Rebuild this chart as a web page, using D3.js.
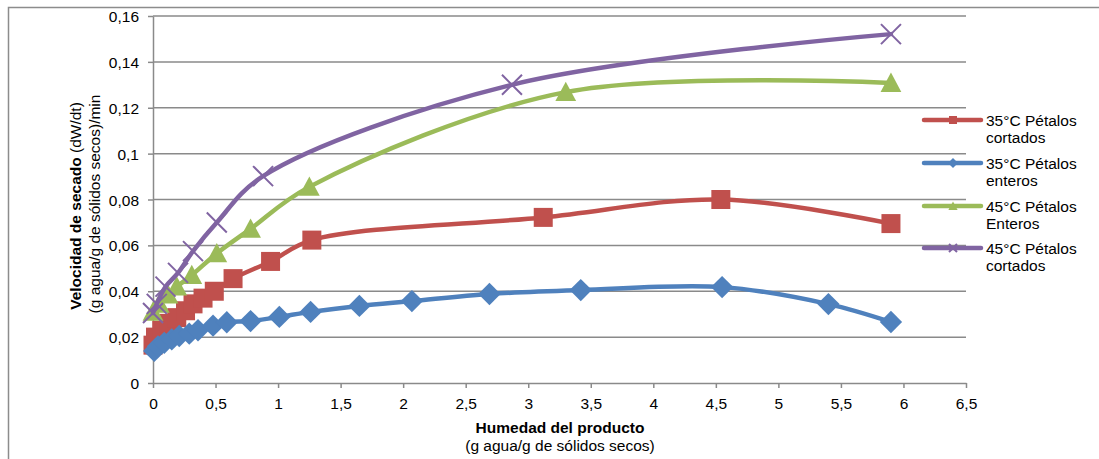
<!DOCTYPE html>
<html><head><meta charset="utf-8">
<script src="https://cdn.jsdelivr.net/npm/d3@7"></script>
<style>body{margin:0;background:#fff}svg{display:block;font-family:"Liberation Sans",Arial,sans-serif}</style>
</head><body><svg id="c" width="1099" height="459"></svg>
<script>
const xTicks = [0,0.5,1,1.5,2,2.5,3,3.5,4,4.5,5,5.5,6,6.5];
const yTicks = [0,0.02,0.04,0.06,0.08,0.1,0.12,0.14,0.16];
const seriesNames = ["35°C Pétalos|cortados","35°C Pétalos|enteros","45°C Pétalos|Enteros","45°C Pétalos|cortados"];
const redX = [0.00,0.02,0.07,0.13,0.19,0.26,0.32,0.40,0.49,0.64,0.94,1.27,3.12,4.54,5.90];
const redY = [0.0165,0.0200,0.0230,0.0260,0.0285,0.0315,0.0345,0.0370,0.0400,0.0455,0.0530,0.0623,0.0722,0.0800,0.0695];
const blueX = [0.01,0.04,0.09,0.15,0.21,0.29,0.36,0.48,0.59,0.78,1.01,1.26,1.65,2.07,2.69,3.42,4.55,5.40,5.90];
const blueY = [0.0140,0.0160,0.0175,0.0190,0.0205,0.0215,0.0230,0.0250,0.0265,0.0270,0.0288,0.0310,0.0336,0.0357,0.0388,0.0405,0.0418,0.0344,0.0266];
const greenX = [0.00,0.05,0.12,0.19,0.31,0.51,0.78,1.25,3.30,5.90];
const greenY = [0.0310,0.0345,0.0385,0.0420,0.0470,0.0565,0.0672,0.0855,0.1268,0.1308];
const purpleX = [0.00,0.03,0.10,0.20,0.32,0.51,0.88,2.87,5.90];
const purpleY = [0.0305,0.0345,0.0420,0.0480,0.0575,0.0700,0.0902,0.1300,0.1521];

const colors = ["#C0504D","#4F81BD","#9BBB59","#8064A2"];
const markers = ["square","diamond","triangle","x"];
const data = [[redX,redY],[blueX,blueY],[greenX,greenY],[purpleX,purpleY]]
  .map(([xs,ys]) => xs.map((x,i)=>({x, y: ys[i]})));

const svg = d3.select("#c");
const L=153, R=966, T=16, B=383;
const x = d3.scaleLinear().domain([0,6.5]).range([L,R]);
const y = d3.scaleLinear().domain([0,0.16]).range([B,T]);
const fmt = d => String(d).replace(".", ",");

// outer border
svg.append("path").attr("d","M8.5,459 V7.5 H1099").attr("fill","none").attr("stroke","#8c8c8c").attr("stroke-width",1.5);

// gridlines
svg.append("g").selectAll("line").data(yTicks.slice(1)).join("line")
  .attr("x1",L).attr("x2",R).attr("y1",d=>y(d)).attr("y2",d=>y(d))
  .attr("stroke","#8a8a8a").attr("stroke-width",1.5);

// axes
const gx = svg.append("g").attr("transform",`translate(0,${B})`)
  .call(d3.axisBottom(x).tickValues(xTicks).tickFormat(fmt).tickSize(5).tickSizeOuter(0));
const gy = svg.append("g").attr("transform",`translate(${L},0)`)
  .call(d3.axisLeft(y).tickValues(yTicks).tickFormat(fmt).tickSize(5).tickSizeOuter(0));
[gx,gy].forEach(g=>{
  g.select(".domain").attr("stroke","#8a8a8a").attr("stroke-width",1.5);
  g.selectAll(".tick line").attr("stroke","#8a8a8a").attr("stroke-width",1.5);
  g.selectAll(".tick text").attr("font-size",15.5).attr("fill","#000").attr("font-family","Liberation Sans, Arial, sans-serif");
});
gx.selectAll(".tick text").attr("dy",null).attr("y",26);
gy.selectAll(".tick text").attr("x",-14).attr("dy","0.36em");

// axis titles
svg.append("text").attr("x",560).attr("y",433).attr("text-anchor","middle")
  .attr("font-size",15.5).attr("font-weight","bold").text("Humedad del producto");
svg.append("text").attr("x",560).attr("y",451).attr("text-anchor","middle")
  .attr("font-size",15.5).text("(g agua/g de sólidos secos)");
const yt = svg.append("text").attr("transform","translate(81,206) rotate(-90)").attr("text-anchor","middle").attr("font-size",15.5);
yt.append("tspan").attr("font-weight","bold").text("Velocidad de secado ");
yt.append("tspan").text("(dW/dt)");
svg.append("text").attr("transform","translate(100,204) rotate(-90)").attr("text-anchor","middle")
  .attr("font-size",15.5).text("(g agua/g de sólidos secos)/min");

function marker(sel, type, color, s){
  if(type==="square"){
    sel.append("rect").attr("x",-s/2).attr("y",-s/2).attr("width",s).attr("height",s).attr("fill",color);
  } else if(type==="diamond"){
    const h=s*0.62;
    sel.append("path").attr("d",`M0,${-h}L${h},0L0,${h}L${-h},0Z`).attr("fill",color);
  } else if(type==="triangle"){
    const h=s*0.55;
    sel.append("path").attr("d",`M0,${-h*1.05}L${h*1.05},${h*0.9}L${-h*1.05},${h*0.9}Z`).attr("fill",color);
  } else {
    const h=s*0.5;
    sel.append("path").attr("d",`M${-h},${-h}L${h},${h}M${-h},${h}L${h},${-h}`).attr("stroke",color).attr("stroke-width",2).attr("fill","none");
  }
}

const line = d3.line().x(d=>x(d.x)).y(d=>y(d.y)).curve(d3.curveCatmullRom.alpha(0.5));
data.forEach((pts,i)=>{
  const g = svg.append("g");
  g.append("path").attr("d",line(pts)).attr("fill","none").attr("stroke",colors[i])
    .attr("stroke-width",4.5).attr("stroke-linecap","round").attr("stroke-linejoin","round");
  g.selectAll("g").data(pts).join("g").attr("transform",d=>`translate(${x(d.x)},${y(d.y)})`)
    .each(function(){ marker(d3.select(this), markers[i], colors[i], i===0?19:(i===3?20:18)); });
});

// legend
const legY = [120,163,206,248];
seriesNames.forEach((nm,i)=>{
  const g = svg.append("g").attr("transform",`translate(0,${legY[i]})`);
  g.append("line").attr("x1",924).attr("x2",981).attr("y1",0).attr("y2",0)
    .attr("stroke",colors[i]).attr("stroke-width",4.5).attr("stroke-linecap","round");
  const m = g.append("g").attr("transform","translate(953,0)");
  marker(m, markers[i], colors[i], 8);
  const parts = nm.split("|");
  g.append("text").attr("x",986).attr("y",5.5).attr("font-size",15.5).text(parts[0]);
  g.append("text").attr("x",986).attr("y",23).attr("font-size",15.5).text(parts[1]);
});
</script></body></html>
